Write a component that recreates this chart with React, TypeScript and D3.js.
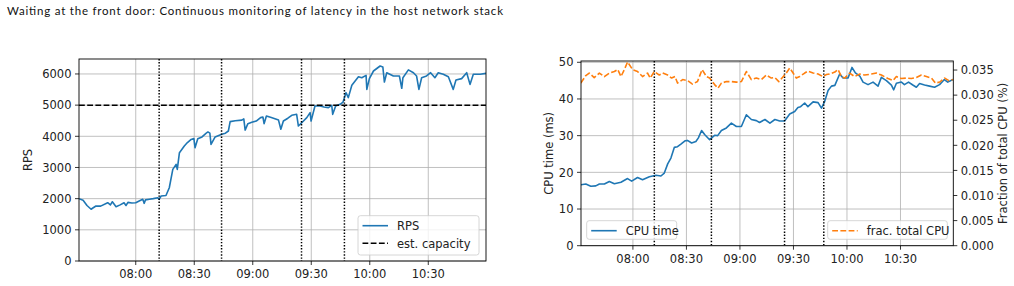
import React from "react";
import * as d3 from "d3";

// minutes since 07:30
const xTickMinutes = [30, 60, 90, 120, 150, 180];
const xTickLabels = ["08:00", "08:30", "09:00", "09:30", "10:00", "10:30"];
const eventMinutes = [42, 74, 115, 137];

const rpsTicks = [0, 1000, 2000, 3000, 4000, 5000, 6000];
const cpuTicks = [0, 10, 20, 30, 40, 50];
const fracTicks = [0, 0.005, 0.01, 0.015, 0.02, 0.025, 0.03, 0.035];
const capacity = 5000;

const rpsSeries: [number, number][] = [
  [0.9, 2000], [3, 1950], [5, 1780], [7.1, 1660], [8, 1700], [9.6, 1765], [12, 1760], [15.6, 1870], [17, 1800], [18, 1900],
  [19.9, 1740], [22, 1800], [24, 1870], [25, 1780], [26, 1880], [28, 1860], [30, 1870], [32, 1930], [33.6, 1980], [34.3, 1850],
  [35, 1960], [37, 1980], [39, 2000], [41.3, 2030], [42, 1980], [43, 2085], [45.5, 2100], [47.2, 2350], [49, 2940], [50.7, 3100],
  [51.3, 2940], [52.4, 3475], [54.9, 3690], [56.5, 3800], [58.4, 3900], [59.8, 3930], [60.4, 3635], [61.8, 3920], [64, 3980], [66, 4095],
  [67, 4140], [68, 4100], [68.6, 3740], [70.7, 3980], [74.1, 4065], [76, 4100], [77.5, 4170], [78.4, 4470], [81, 4500], [84.4, 4520],
  [85.4, 4560], [86.1, 4200], [87.5, 4405], [89.5, 4450], [91.8, 4490], [94, 4600], [95.2, 4620], [95.8, 4405], [97, 4650], [99.5, 4600],
  [102.1, 4545], [103.2, 4520], [104.4, 4225], [105.7, 4490], [108, 4580], [110, 4675], [112.5, 4705], [113.4, 4330], [115.1, 4435], [117.7, 4600],
  [119.4, 4760], [119.9, 4490], [121.9, 4970], [124.5, 4970], [126.5, 4940], [128.8, 4920], [130.5, 4990], [131, 4705], [132.5, 4970], [134.8, 5025],
  [136.3, 5100], [137.8, 5400], [139, 5240], [140.8, 5635], [144.2, 5910], [145.9, 5880], [148.1, 5955], [148.5, 5505], [149.8, 5850], [151.9, 6095],
  [155.3, 6255], [156.7, 6225], [157.5, 5740], [158.7, 6040], [162.1, 5935], [165.2, 5935], [166.4, 5540], [167, 5880], [169.8, 6130], [172.4, 6040],
  [174, 5935], [175.2, 5505], [176.6, 5880], [179.1, 5935], [181.2, 6040], [183.4, 5880], [185.1, 6040], [187.7, 5990], [190.3, 5910], [192.8, 5505],
  [194.2, 5805], [197.1, 5850], [199.7, 6040], [201.4, 5665], [203.1, 5990], [206.6, 5990], [209.6, 6020],
];

const cpuSeries: [number, number][] = [
  [0.8, 16.6], [3.6, 16.8], [6.4, 16.2], [9.2, 16.3], [11.2, 16.8], [14, 16.8], [16.8, 17.5], [19.6, 16.9], [23.3, 17.3], [27, 18.3],
  [29.3, 17.6], [32.6, 18.6], [35.4, 18.0], [39.2, 18.8], [42.9, 19.2], [45.7, 19.0], [47.6, 19.8], [49.5, 22.3], [51.3, 23.9], [53.2, 26.8],
  [55, 27.0], [56.9, 27.7], [59.2, 28.6], [60.6, 28.7], [62.9, 28.0], [65.3, 28.4], [66.7, 29.4], [68.5, 31.4], [70.2, 30.3], [73, 28.9],
  [75.8, 30.1], [77.5, 30.0], [79.6, 31.4], [82.4, 32.1], [85.2, 33.4], [88, 32.5], [90.8, 32.5], [93.6, 35.7], [96.4, 34.4], [99.2, 34.1],
  [101, 33.6], [104, 34.4], [106.8, 33.4], [109.6, 34.4], [112.3, 34.0], [115, 34.0], [117.9, 35.9], [120.7, 36.6], [122.5, 37.7], [124, 37.9],
  [126.3, 38.9], [128.1, 37.9], [131, 39.2], [133.8, 39.0], [135.7, 37.5], [137.4, 39.2], [139.4, 42.3], [141.3, 43.5], [143.2, 43.7], [145.9, 46.8],
  [147.8, 45.7], [150.6, 45.7], [152.8, 48.6], [154.7, 47.1], [157.2, 46.2], [159, 44.6], [161.8, 43.9], [164.6, 44.6], [167.4, 43.5], [169.3, 45.9],
  [172.1, 45.0], [174.9, 43.8], [176.2, 42.5], [177.7, 44.3], [180.5, 44.6], [182.2, 43.9], [184.5, 44.6], [186.9, 43.8], [188.9, 43.2], [190.7, 44.2],
  [193.5, 43.8], [196.3, 43.5], [199.1, 43.2], [201.9, 43.9], [204.6, 45.3], [206.5, 44.6], [209.4, 45.3],
];

const fracSeries: [number, number][] = [
  [0.8, 0.0324], [3.6, 0.0339], [5.5, 0.0344], [8.3, 0.0335], [11.2, 0.0344], [14, 0.0337], [16.8, 0.0344], [19.6, 0.0347], [21.5, 0.0351], [23.3, 0.0337],
  [25.2, 0.0351], [27, 0.0366], [29.8, 0.0351], [32.6, 0.0347], [35.4, 0.0337], [38.2, 0.0344], [39.7, 0.0334], [42, 0.0347], [44.8, 0.034], [46.7, 0.0344],
  [49.5, 0.034], [51.7, 0.0334], [53.6, 0.0337], [55, 0.0324], [57.9, 0.0331], [60.6, 0.0329], [63.4, 0.0322], [66.2, 0.0327], [68.8, 0.0351], [71.2, 0.0337],
  [73, 0.0334], [75.8, 0.0321], [77.7, 0.0314], [79.6, 0.0324], [82.4, 0.0327], [85.2, 0.0327], [88, 0.0326], [90.8, 0.0327], [93.6, 0.0347], [96.4, 0.0331],
  [99.2, 0.0334], [102, 0.0331], [104.8, 0.034], [107.6, 0.0334], [109.6, 0.0335], [111.8, 0.0327], [114.3, 0.0337], [116, 0.0344], [117.9, 0.0354], [119.8, 0.0344],
  [121.6, 0.0334], [123.5, 0.0337], [126.3, 0.0344], [128.1, 0.0348], [131, 0.0344], [133.8, 0.0342], [136.5, 0.0337], [138.5, 0.0341], [140.2, 0.0342], [143.2, 0.0346],
  [145, 0.0351], [146.9, 0.0337], [148.7, 0.0334], [151.5, 0.0344], [154.3, 0.0337], [157.2, 0.0342], [159.9, 0.034], [163.7, 0.0342], [166.5, 0.0344], [169.3, 0.034],
  [173, 0.0333], [175.8, 0.0329], [177.7, 0.0337], [180.5, 0.0333], [183.3, 0.0334], [186.1, 0.0333], [188.9, 0.0335], [191.7, 0.034], [194.5, 0.0337], [197.4, 0.0334],
  [199.6, 0.0324], [202, 0.0326], [204.8, 0.0334], [207.1, 0.0329], [209.4, 0.0331],
];

const BLUE = "#1f77b4";
const ORANGE = "#ff7f0e";
const GRID = "#b0b0b0";
const FONT = "DejaVu Sans, sans-serif";
const FS = 11.5;
const TXT = "#222";
const DOT = "1.4 1.7";
const DASH = "5.8 2.4";

const L = { x0: 79, x1: 486, y0: 59, y1: 261 };
const R = { x0: 581, x1: 953.3, y0: 61, y1: 245.7 };
const xDomain: [number, number] = [0.9, 209.6];

function Legend({ x, y, w, h, items }: { x: number; y: number; w: number; h: number; items: { label: string; color: string; dash?: string }[] }) {
  return (
    <g>
      <rect x={x} y={y} width={w} height={h} rx={2.5} fill="white" fillOpacity={0.8} stroke="#cccccc" strokeWidth={0.8} />
      {items.map((it, i) => {
        const cy = y + 10 + i * 17.6;
        return (
          <g key={i}>
            <line x1={x + 4.5} x2={x + 30} y1={cy} y2={cy} stroke={it.color} strokeWidth={1.6} strokeDasharray={it.dash} />
            <text x={x + 39} y={cy + 4.2} fontSize={FS} fontFamily={FONT} fill={TXT}>{it.label}</text>
          </g>
        );
      })}
    </g>
  );
}

export default function App() {
  const xl = d3.scaleLinear().domain(xDomain).range([L.x0, L.x1]);
  const yl = d3.scaleLinear().domain([0, 6480]).range([L.y1, L.y0]);
  const xr = d3.scaleLinear().domain(xDomain).range([R.x0, R.x1]);
  const yr = d3.scaleLinear().domain([0, 50.35]).range([R.y1, R.y0]);
  const yr2 = d3.scaleLinear().domain([0, 0.0368]).range([R.y1, R.y0]);

  const rpsLine = d3.line<[number, number]>().x((d) => xl(d[0])).y((d) => yl(d[1]));
  const cpuLine = d3.line<[number, number]>().x((d) => xr(d[0])).y((d) => yr(d[1]));
  const fracLine = d3.line<[number, number]>().x((d) => xr(d[0])).y((d) => yr2(d[1]));

  return (
    <div style={{ position: "absolute", left: 0, top: 0 }}>
      <svg width={1014} height={286} style={{ display: "block", background: "white" }}>
        <text x={7} y={14.5} fontSize={11.5} fontFamily="Lato, 'Open Sans', sans-serif" fill="#111" textLength={496} lengthAdjust="spacing">
          Waiting at the front door: Continuous monitoring of latency in the host network stack
        </text>

        <defs>
          <clipPath id="clipL"><rect x={L.x0} y={L.y0} width={L.x1 - L.x0} height={L.y1 - L.y0} /></clipPath>
          <clipPath id="clipR"><rect x={R.x0} y={R.y0} width={R.x1 - R.x0} height={R.y1 - R.y0} /></clipPath>
        </defs>

        {/* ---------- Left panel ---------- */}
        <g>
          {rpsTicks.map((t) => (
            <line key={"gy" + t} x1={L.x0} x2={L.x1} y1={yl(t)} y2={yl(t)} stroke={GRID} strokeWidth={0.8} />
          ))}
          {xTickMinutes.map((t) => (
            <line key={"gx" + t} x1={xl(t)} x2={xl(t)} y1={L.y0} y2={L.y1} stroke={GRID} strokeWidth={0.8} />
          ))}
          <g clipPath="url(#clipL)">
            <path d={rpsLine(rpsSeries) || ""} fill="none" stroke={BLUE} strokeWidth={1.6} strokeLinejoin="round" />
            <line x1={L.x0} x2={L.x1} y1={yl(capacity)} y2={yl(capacity)} stroke="black" strokeWidth={1.5} strokeDasharray={DASH} />
            {eventMinutes.map((m) => (
              <line key={"ev" + m} x1={xl(m)} x2={xl(m)} y1={L.y0} y2={L.y1} stroke="black" strokeWidth={1.5} strokeDasharray={DOT} />
            ))}
          </g>
          <rect x={L.x0} y={L.y0} width={L.x1 - L.x0} height={L.y1 - L.y0} fill="none" stroke="black" strokeWidth={0.9} />
          {rpsTicks.map((t) => (
            <g key={"ty" + t}>
              <line x1={L.x0 - 4} x2={L.x0} y1={yl(t)} y2={yl(t)} stroke="black" strokeWidth={0.8} />
              <text x={L.x0 - 7.5} y={yl(t) + 4.2} textAnchor="end" fontSize={FS} fontFamily={FONT} fill={TXT}>{t}</text>
            </g>
          ))}
          {xTickMinutes.map((t, i) => (
            <g key={"tx" + t}>
              <line x1={xl(t)} x2={xl(t)} y1={L.y1} y2={L.y1 + 4} stroke="black" strokeWidth={0.8} />
              <text x={xl(t)} y={L.y1 + 16.8} textAnchor="middle" fontSize={FS} fontFamily={FONT} fill={TXT}>{xTickLabels[i]}</text>
            </g>
          ))}
          <text transform={`translate(${32},${(L.y0 + L.y1) / 2}) rotate(-90)`} textAnchor="middle" fontSize={FS} fontFamily={FONT} fill={TXT}>RPS</text>
          <Legend x={358} y={215.7} w={121} h={39.3} items={[{ label: "RPS", color: BLUE }, { label: "est. capacity", color: "black", dash: DASH }]} />
        </g>

        {/* ---------- Right panel ---------- */}
        <g>
          {cpuTicks.map((t) => (
            <line key={"rgy" + t} x1={R.x0} x2={R.x1} y1={yr(t)} y2={yr(t)} stroke={GRID} strokeWidth={0.8} />
          ))}
          {xTickMinutes.map((t) => (
            <line key={"rgx" + t} x1={xr(t)} x2={xr(t)} y1={R.y0} y2={R.y1} stroke={GRID} strokeWidth={0.8} />
          ))}
          <g clipPath="url(#clipR)">
            <path d={cpuLine(cpuSeries) || ""} fill="none" stroke={BLUE} strokeWidth={1.6} strokeLinejoin="round" />
            {eventMinutes.map((m) => (
              <line key={"rev" + m} x1={xr(m)} x2={xr(m)} y1={R.y0} y2={R.y1} stroke="black" strokeWidth={1.5} strokeDasharray={DOT} />
            ))}
            <path d={fracLine(fracSeries) || ""} fill="none" stroke={ORANGE} strokeWidth={1.6} strokeDasharray={DASH} strokeLinejoin="round" />
          </g>
          <rect x={R.x0} y={R.y0} width={R.x1 - R.x0} height={R.y1 - R.y0} fill="none" stroke="black" strokeWidth={0.9} />
          {cpuTicks.map((t) => (
            <g key={"rty" + t}>
              <line x1={R.x0 - 4} x2={R.x0} y1={yr(t)} y2={yr(t)} stroke="black" strokeWidth={0.8} />
              <text x={R.x0 - 7.5} y={yr(t) + 4.2} textAnchor="end" fontSize={FS} fontFamily={FONT} fill={TXT}>{t}</text>
            </g>
          ))}
          {fracTicks.map((t) => (
            <g key={"rty2" + t}>
              <line x1={R.x1} x2={R.x1 + 4} y1={yr2(t)} y2={yr2(t)} stroke="black" strokeWidth={0.8} />
              <text x={R.x1 + 7.5} y={yr2(t) + 4.2} textAnchor="start" fontSize={FS} fontFamily={FONT} fill={TXT}>{d3.format(".3f")(t)}</text>
            </g>
          ))}
          {xTickMinutes.map((t, i) => (
            <g key={"rtx" + t}>
              <line x1={xr(t)} x2={xr(t)} y1={R.y1} y2={R.y1 + 4} stroke="black" strokeWidth={0.8} />
              <text x={xr(t)} y={R.y1 + 16.8} textAnchor="middle" fontSize={FS} fontFamily={FONT} fill={TXT}>{xTickLabels[i]}</text>
            </g>
          ))}
          <text transform={`translate(${553},${(R.y0 + R.y1) / 2}) rotate(-90)`} textAnchor="middle" fontSize={FS} fontFamily={FONT} fill={TXT}>CPU time (ms)</text>
          <text transform={`translate(${1007},${(R.y0 + R.y1) / 2}) rotate(-90)`} textAnchor="middle" fontSize={FS} fontFamily={FONT} fill={TXT}>Fraction of total CPU (%)</text>
          <Legend x={586.7} y={220.7} w={90} h={18.6} items={[{ label: "CPU time", color: BLUE }]} />
          <Legend x={827.7} y={220.7} w={119.6} h={18.6} items={[{ label: "frac. total CPU", color: ORANGE, dash: DASH }]} />
        </g>
      </svg>
    </div>
  );
}
